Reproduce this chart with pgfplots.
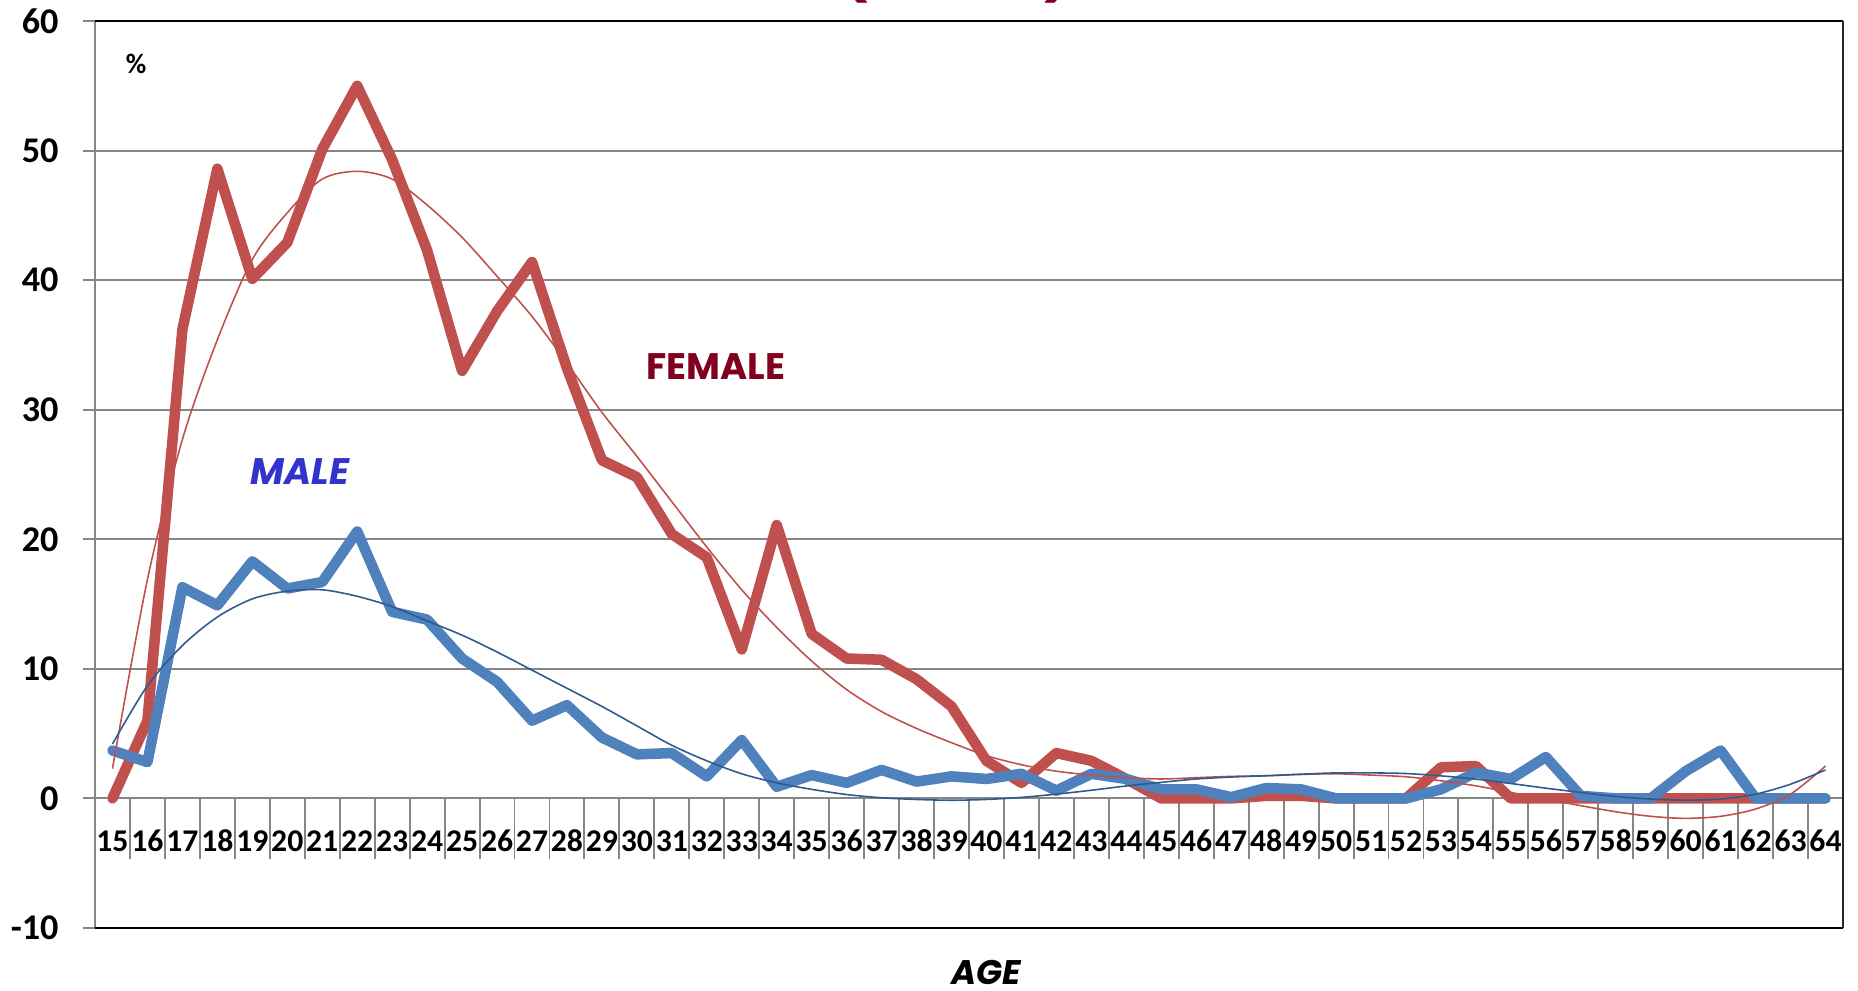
\documentclass[border=0pt]{standalone}
\usepackage{fontspec}
\setmainfont{Carlito}
\newfontfamily\comic{Poppins}
\usepackage{pgfplots}
\usepackage{pgfplotstable}
\pgfplotsset{compat=1.18}

\definecolor{femred}{HTML}{C0504D}
\definecolor{malblue}{HTML}{4F81BD}
\definecolor{maltrend}{HTML}{2F5A8C}
\definecolor{gridgray}{HTML}{868686}
\definecolor{femtext}{HTML}{80001F}
\definecolor{maltext}{HTML}{3232CC}

% idx: position on the category axis, age: age in years
% F, M: female and male rates (%), FT, MT: polynomial trend of each
\pgfplotstableread{
idx age F    M    FT    MT
0  15  0    3.7  2.3   4.2
1  16  6.0  2.8  16.9  8.7
2  17  36.2 16.3 27.7  11.8
3  18  48.6 14.9 35.4  14.0
4  19  40.1 18.3 41.6  15.4
5  20  42.9 16.2 45.2  16.0
6  21  50.1 16.7 47.8  16.1
7  22  55.0 20.6 48.4  15.6
8  23  49.3 14.4 47.8  14.8
9  24  42.3 13.8 45.8  13.7
10 25  33.0 10.8 43.3  12.6
11 26  37.6 9.0  40.3  11.3
12 27  41.4 6.0  37.2  9.9
13 28  33.2 7.2  33.6  8.5
14 29  26.1 4.7  29.8  7.1
15 30  24.8 3.4  26.4  5.6
16 31  20.4 3.5  22.9  4.1
17 32  18.6 1.7  19.4  2.9
18 33  11.5 4.5  16.1  1.9
19 34  21.1 0.9  13.2  1.2
20 35  12.7 1.8  10.6  0.7
21 36  10.8 1.2  8.4   0.3
22 37  10.7 2.2  6.7   0.05
23 38  9.2  1.3  5.4   -0.08
24 39  7.1  1.7  4.3   -0.14
25 40  2.9  1.5  3.3   -0.08
26 41  1.2  1.9  2.6   0.08
27 42  3.5  0.6  2.1   0.33
28 43  2.9  1.9  1.8   0.63
29 44  1.5  1.5  1.6   0.96
30 45  0    0.7  1.5   1.24
31 46  0    0.7  1.6   1.5
32 47  0    0.1  1.7   1.65
33 48  0.2  0.8  1.75  1.75
34 49  0.2  0.7  1.85  1.87
35 50  0    0    1.9   1.97
36 51  0    0    1.8   1.97
37 52  0    0    1.67  1.92
38 53  2.4  0.7  1.36  1.74
39 54  2.5  2.0  0.97  1.49
40 55  0    1.5  0.46  1.15
41 56  0    3.2  -0.05 0.79
42 57  0    0.2  -0.56 0.46
43 58  0    0    -1.03 0.15
44 59  0    0    -1.38 -0.05
45 60  0    2.1  -1.54 -0.13
46 61  0    3.7  -1.38 -0.05
47 62  0    0    -0.82 0.33
48 63  0    0    0.33  1.1
49 64  0    0    2.5   2.2
}\rates

\begin{document}
\begin{tikzpicture}
\useasboundingbox (0,0) rectangle (18.58cm,9.91cm);

% title, mostly above the page edge
\node[anchor=south, inner sep=0pt, text=femtext, font=\comic\bfseries\fontsize{16}{16}\selectfont] at (8.55cm,9.87cm) {(};
\node[anchor=south, inner sep=0pt, text=femtext, font=\comic\bfseries\fontsize{16}{16}\selectfont] at (10.58cm,9.87cm) {)};

\begin{axis}[
  at={(0.95cm,0.63cm)}, anchor=south west,
  width=17.48cm, height=9.07cm, scale only axis,
  xmin=-0.5, xmax=49.5, ymin=-10, ymax=60,
  clip=false,
  axis line style={draw=none},
  xtick={0,...,49},
  xticklabels={15,16,17,18,19,20,21,22,23,24,25,26,27,28,29,30,31,32,33,34,35,36,37,38,39,40,41,42,43,44,45,46,47,48,49,50,51,52,53,54,55,56,57,58,59,60,61,62,63,64},
  ytick={-10,0,10,20,30,40,50,60},
  yticklabels={-10,0,10,20,30,40,50,60},
  xtick pos=left, ytick pos=left,
  tick align=outside, major tick length=0.12cm,
  xtick style={draw=none},
  ytick style={draw=gridgray, line width=0.55pt},
  ymajorgrids,
  major grid style={draw=gridgray, line width=0.55pt},
  yticklabel style={font=\bfseries\fontsize{10.3}{12}\selectfont, anchor=east, xshift=-0.12cm},
  xticklabel style={font=\bfseries\fontsize{9}{10}\selectfont, anchor=center, inner sep=0pt, yshift=0.99cm},
]

% category separators below the zero line
\pgfplotsinvokeforeach{0.5,1.5,...,48.5}{
  \draw[gridgray, line width=0.55pt] (axis cs:#1,0) -- (axis cs:#1,-4.7);
}

\addplot[femred, line width=3pt, line join=round, line cap=round] table[x=idx, y=F] {\rates};
\addplot[malblue, line width=3pt, line join=round, line cap=round] table[x=idx, y=M] {\rates};
\addplot[femred, line width=0.45pt, smooth, tension=0.5] table[x=idx, y=FT] {\rates};
\addplot[maltrend, line width=0.45pt, smooth, tension=0.5] table[x=idx, y=MT] {\rates};

% plot frame
\draw[gridgray, line width=0.55pt] (rel axis cs:0,0) -- (rel axis cs:0,1);
\draw[black, line width=0.8pt] (rel axis cs:0,1) -- (rel axis cs:1,1);
\draw[black, line width=0.8pt] (rel axis cs:0,0) -- (rel axis cs:1,0);
\draw[black!85, line width=0.6pt] (rel axis cs:1,0) -- (rel axis cs:1,1);

\end{axis}

\node[font=\bfseries\fontsize{8}{9}\selectfont] at (1.36cm,9.27cm) {\%};
\node[text=maltext, font=\comic\bfseries\itshape\fontsize{10.5}{12}\selectfont] at (3.00cm,5.19cm) {MALE};
\node[text=femtext, font=\comic\bfseries\fontsize{10.5}{12}\selectfont] at (7.16cm,6.24cm) {FEMALE};
\node[font=\comic\bfseries\itshape\fontsize{9.7}{11}\selectfont] at (9.86cm,0.19cm) {AGE};
\end{tikzpicture}
\end{document}
